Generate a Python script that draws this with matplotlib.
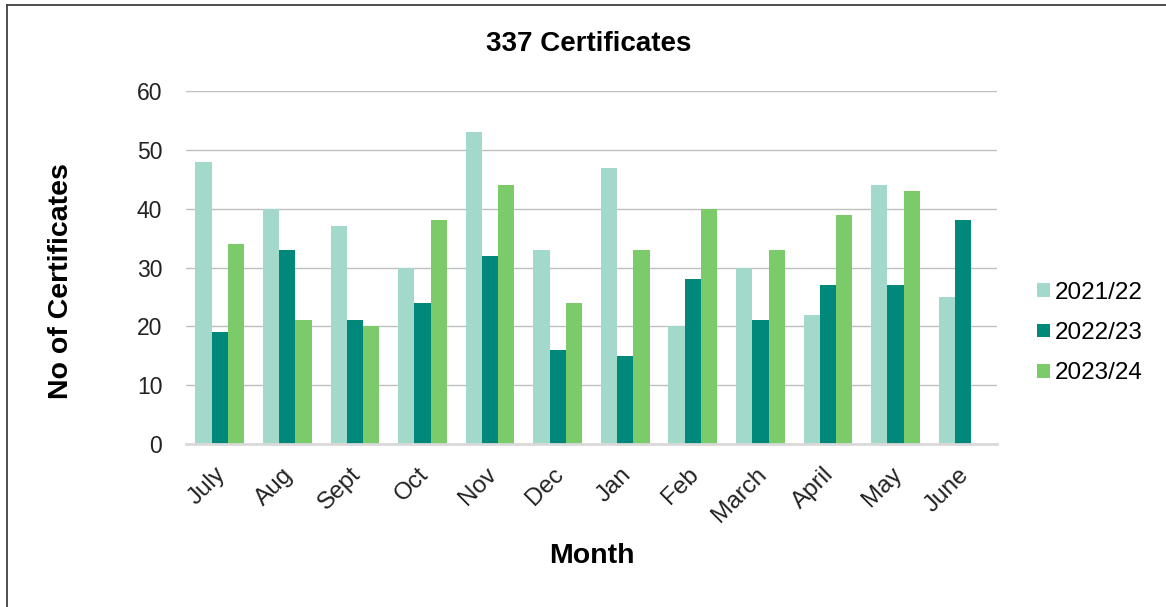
import numpy as np
import matplotlib.pyplot as plt
import matplotlib.transforms as mtransforms
from matplotlib.lines import Line2D

plt.rcParams['font.family'] = ['Liberation Sans', 'DejaVu Sans']

months = ['July', 'Aug', 'Sept', 'Oct', 'Nov', 'Dec', 'Jan', 'Feb', 'March', 'April', 'May', 'June']
y2122 = [48, 40, 37, 30, 53, 33, 47, 20, 30, 22, 44, 25]
y2223 = [19, 33, 21, 24, 32, 16, 15, 28, 21, 27, 27, 38]
y2324 = [34, 21, 20, 38, 44, 24, 33, 40, 33, 39, 43, 0]
series_names = ['2021/22', '2022/23', '2023/24']
colors = ['#A2D9CB', '#00887A', '#7CCB6B']

fig = plt.figure(figsize=(11.66, 6.07), dpi=100)
ax = fig.add_axes([0.1595, 0.2685, 0.6955, 0.5815])

# frame edges (top and left only, the rest is cropped off)
fig.lines.append(Line2D([0.006, 0.006], [0.991, 0], transform=fig.transFigure,
                        color='#404040', linewidth=1.3))
fig.lines.append(Line2D([0.006, 1], [0.991, 0.991], transform=fig.transFigure,
                        color='#404040', linewidth=1.3))

x = np.arange(len(months))
w = 0.24
for i, (vals, name, c) in enumerate(zip([y2122, y2223, y2324], series_names, colors)):
    ax.bar(x + (i - 1) * w, vals, width=w, color=c, label=name, zorder=3)

ax.set_xlim(-0.5, len(months) - 0.5)
ax.set_ylim(0, 60)
ax.set_yticks(range(0, 61, 10))
ax.yaxis.grid(True, color='#BFBFBF', linewidth=1.0, zorder=0)
ax.set_axisbelow(True)
for s in ['top', 'right', 'left']:
    ax.spines[s].set_visible(False)
ax.spines['bottom'].set_color('#D9D9D9')
ax.spines['bottom'].set_linewidth(2)
ax.spines['bottom'].set_zorder(4)
ax.tick_params(axis='y', length=0, labelsize=16.5, colors='#222222', pad=17)
ax.set_xticks(x)
ax.set_xticklabels(months, rotation=45, ha='right', rotation_mode='anchor')
ax.tick_params(axis='x', length=0, labelsize=17.5, colors='#222222', pad=14)
shift = mtransforms.ScaledTranslation(-5 / 100, 0, fig.dpi_scale_trans)
for lbl in ax.get_xticklabels():
    lbl.set_transform(lbl.get_transform() + shift)

fig.text(0.505, 0.927, '337 Certificates', fontsize=20, fontweight='bold',
         ha='center', va='center')
fig.text(0.508, 0.084, 'Month', fontsize=20.5, fontweight='bold',
         ha='center', va='center')
fig.text(0.052, 0.537, 'No of Certificates', fontsize=20.5, fontweight='bold',
         ha='center', va='center', rotation=90)

leg = ax.legend(loc='center left', bbox_to_anchor=(1.035, 0.314), frameon=False,
                fontsize=17.5, handlelength=0.5, handleheight=0.5, handletextpad=0.2,
                labelspacing=0.75, borderpad=0)

fig.savefig('out.png', dpi=100)
